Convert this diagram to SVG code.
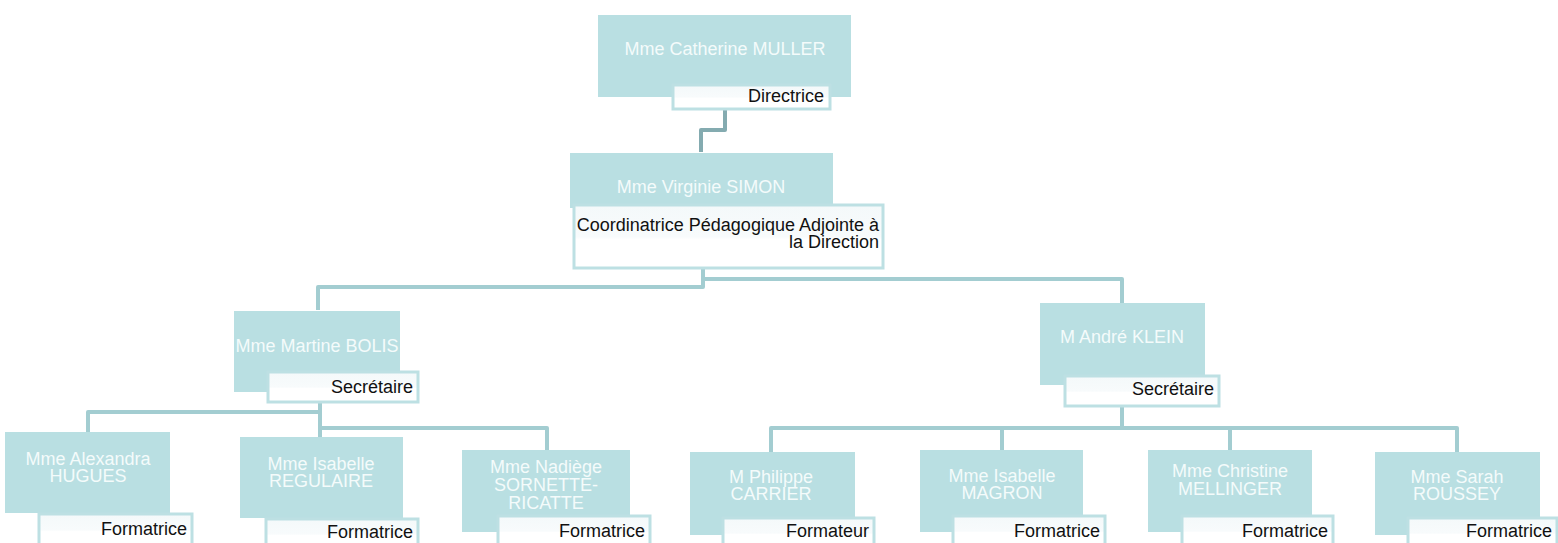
<svg xmlns="http://www.w3.org/2000/svg" width="1558" height="543" viewBox="0 0 1558 543">
<style>
.box{fill:#b9dfe2}
.tb{fill:url(#tg);stroke:#bde0e3;stroke-width:3}
.nm{font-family:"Liberation Sans",Arial,sans-serif;font-size:18px;fill:#f4fbfb;text-anchor:middle}
.tt{font-family:"Liberation Sans",Arial,sans-serif;font-size:18px;fill:#111;text-anchor:end}
.cn{fill:none;stroke:#a3cdd1;stroke-width:4;stroke-linejoin:round;stroke-linecap:butt}
.cd{stroke:#84abb0}
</style>
<defs>
<linearGradient id="tg" x1="0" y1="0" x2="0" y2="1">
<stop offset="0" stop-color="#f4f9fa"/>
<stop offset="0.5" stop-color="#f8fbfc"/>
<stop offset="0.55" stop-color="#ffffff"/>
<stop offset="1" stop-color="#ffffff"/>
</linearGradient>
</defs>
<rect width="1558" height="543" fill="#ffffff"/>
<g id="connectors">
<path class="cn cd" d="M725,110 V130 H701 V152"/>
<path class="cn" d="M703,268 V287 H318 V310"/>
<path class="cn" d="M703,279 H1122 V303"/>
<path class="cn" d="M320,402 V437"/>
<path class="cn" d="M320,412 H88 V432"/>
<path class="cn" d="M320,428 H547 V450"/>
<path class="cn" d="M1122,406 V428"/>
<path class="cn" d="M771,452 V428 H1457 V452"/>
<path class="cn" d="M1002,428 V450"/>
<path class="cn" d="M1230,428 V450"/>
</g>
<g id="n-muller">
<rect class="box" x="598" y="15" width="253" height="82"/>
<text class="nm" x="725" y="55">Mme Catherine MULLER</text>
<rect class="tb" x="673" y="85" width="157" height="24"/>
<text class="tt" x="824" y="102">Directrice</text>
</g>
<g id="n-simon">
<rect class="box" x="570" y="153" width="263" height="55"/>
<text class="nm" x="701" y="193">Mme Virginie SIMON</text>
<rect class="tb" x="574" y="205" width="309" height="63"/>
<text class="tt" x="879" y="231">Coordinatrice Pédagogique Adjointe à</text>
<text class="tt" x="879" y="248">la Direction</text>
</g>
<g id="n-bolis">
<rect class="box" x="234" y="311" width="166" height="81"/>
<text class="nm" x="317" y="352">Mme Martine BOLIS</text>
<rect class="tb" x="268" y="372" width="150" height="30"/>
<text class="tt" x="413" y="393">Secrétaire</text>
</g>
<g id="n-klein">
<rect class="box" x="1040" y="303" width="165" height="82"/>
<text class="nm" x="1122" y="343">M André KLEIN</text>
<rect class="tb" x="1065" y="376" width="154" height="30"/>
<text class="tt" x="1214" y="395">Secrétaire</text>
</g>
<g id="n-hugues">
<rect class="box" x="5" y="432" width="165" height="81"/>
<text class="nm" x="88" y="465">Mme Alexandra</text>
<text class="nm" x="88" y="482">HUGUES</text>
<rect class="tb" x="39" y="514" width="153" height="32"/>
<text class="tt" x="187" y="535">Formatrice</text>
</g>
<g id="n-regulaire">
<rect class="box" x="240" y="437" width="163" height="81"/>
<text class="nm" x="321" y="470">Mme Isabelle</text>
<text class="nm" x="321" y="487">REGULAIRE</text>
<rect class="tb" x="266" y="519" width="152" height="30"/>
<text class="tt" x="413" y="538">Formatrice</text>
</g>
<g id="n-sornette">
<rect class="box" x="462" y="450" width="168" height="82"/>
<text class="nm" x="546" y="473">Mme Nadiège</text>
<text class="nm" x="546" y="491">SORNETTE-</text>
<text class="nm" x="546" y="509">RICATTE</text>
<rect class="tb" x="498" y="516" width="152" height="30"/>
<text class="tt" x="645" y="537">Formatrice</text>
</g>
<g id="n-carrier">
<rect class="box" x="690" y="452" width="165" height="83"/>
<text class="nm" x="771" y="483">M Philippe</text>
<text class="nm" x="771" y="500">CARRIER</text>
<rect class="tb" x="723" y="518" width="151" height="30"/>
<text class="tt" x="869" y="537">Formateur</text>
</g>
<g id="n-magron">
<rect class="box" x="920" y="450" width="163" height="82"/>
<text class="nm" x="1002" y="482">Mme Isabelle</text>
<text class="nm" x="1002" y="499">MAGRON</text>
<rect class="tb" x="953" y="516" width="152" height="30"/>
<text class="tt" x="1100" y="537">Formatrice</text>
</g>
<g id="n-mellinger">
<rect class="box" x="1148" y="450" width="164" height="82"/>
<text class="nm" x="1230" y="477">Mme Christine</text>
<text class="nm" x="1230" y="495">MELLINGER</text>
<rect class="tb" x="1182" y="516" width="151" height="30"/>
<text class="tt" x="1328" y="537">Formatrice</text>
</g>
<g id="n-roussey">
<rect class="box" x="1375" y="452" width="165" height="83"/>
<text class="nm" x="1457" y="483">Mme Sarah</text>
<text class="nm" x="1457" y="500">ROUSSEY</text>
<rect class="tb" x="1408" y="518" width="149" height="30"/>
<text class="tt" x="1552" y="537">Formatrice</text>
</g>
</svg>
